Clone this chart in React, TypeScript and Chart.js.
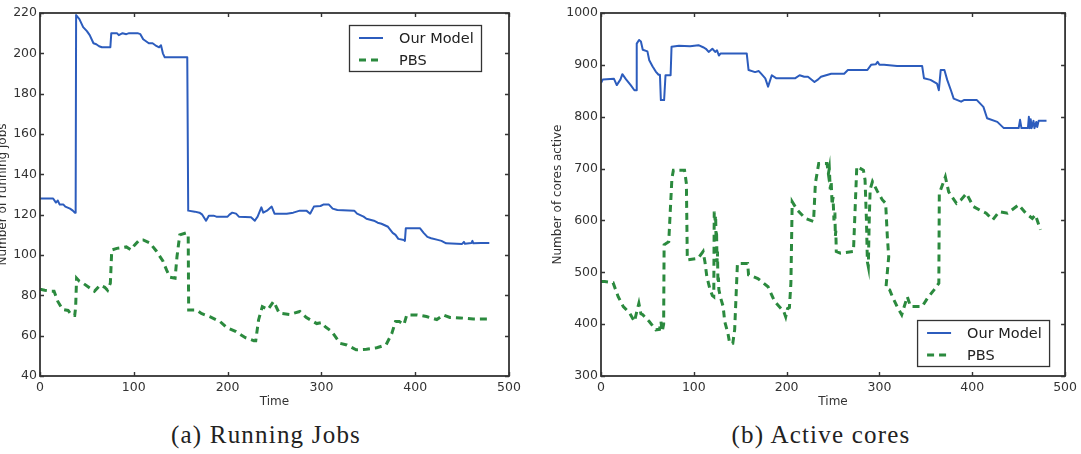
import React, { useEffect, useRef } from "react";
import { Chart, registerables } from "chart.js";

Chart.register(...registerables);

// ---- data: [time, value] samples ----
const seriesLabels = ["Our Model", "PBS"];

const jobsModel: [number, number][] = [
  [0, 128], [14, 128], [17, 126], [19, 127], [21, 125], [25, 125], [27, 124], [32, 123], [35, 122],
  [37, 121], [38, 121], [38.5, 219], [42, 217], [46, 213], [50, 211], [53, 209], [57, 205], [60, 204.5],
  [63, 203.5], [66, 203], [75, 203], [76, 210], [82, 210], [84, 209], [88, 210], [92, 209.5], [95, 210],
  [104, 210], [107, 209.5], [110, 207], [113, 206], [116, 205], [120, 205], [123, 204], [127, 203],
  [129, 204], [131, 200], [133, 198], [157, 198], [158, 122], [165, 121.5], [170, 121], [173, 120],
  [177, 117], [180, 119.5], [185, 119.5], [188, 119], [200, 119], [202, 120], [205, 121], [209, 120.5],
  [212, 119], [225, 118.7], [229, 117], [232, 119], [236, 123.6], [238, 121], [242, 122], [247, 124],
  [250, 120.5], [263, 120.5], [270, 121], [277, 122], [284, 122], [288, 120.5], [292, 124], [299, 124.3],
  [302, 125], [308, 125], [312, 123], [317, 122.3], [335, 122], [338, 120.5], [345, 119], [348, 118],
  [356, 117], [360, 116], [364, 115.5], [371, 114], [376, 111], [379, 110], [382, 108], [388, 107.4],
  [389, 107], [390, 113.3], [405, 113.3], [409, 111], [413, 109], [417, 108.3], [424, 107.5], [428, 107],
  [433, 105.8], [450, 105.5], [452, 106.5], [453, 105.6], [460, 106], [461, 107], [462, 105.8], [470, 106],
  [479, 106],
];

const jobsPbs: [number, number][] = [
  [0, 83], [5, 82.5], [12, 82], [15, 82], [19, 77], [24, 73], [30, 72.5], [34, 70], [37, 70], [38, 74],
  [39, 88.5], [42, 87], [46, 86], [52, 84], [58, 82], [64, 85], [69, 84], [72, 82.5], [75, 86], [76.5, 102.5],
  [82, 103.3], [92, 104], [97, 102.5], [101, 105], [106, 107.5], [110, 107.5], [117, 106], [124, 102],
  [131, 97], [135, 92.5], [138.6, 89], [144, 88.5], [146, 99], [149, 110], [156, 111], [158, 110],
  [158.5, 72.7], [167, 72.7], [172, 71], [181, 69.4], [192, 67], [199, 64], [209, 62], [219, 59],
  [228, 57.5], [230, 57.5], [233, 67.8], [237, 74.4], [243, 73], [249, 77], [255, 71.2], [266, 70.5],
  [277, 72], [284, 69], [295, 66], [300, 66.5], [304, 64.5], [311, 62], [320, 56.2], [327, 55.4],
  [337, 53], [348, 53.3], [359, 54], [369, 55.5], [375, 61], [379, 67], [383, 67], [388, 65.5],
  [391, 70.3], [402, 70.3], [412, 69.5], [423, 68], [430, 70.3], [437, 69], [448, 68.8], [462, 68.3],
  [480, 68.3],
];

const coresModel: [number, number][] = [
  [0, 865], [2, 872], [14, 873], [17, 861], [21, 872], [23, 882], [27, 872], [32, 861], [36, 851],
  [38, 851], [38.5, 941], [41, 948], [43, 945], [45, 929], [50, 926], [52, 909], [55.6, 897], [59, 887],
  [62, 881], [63.5, 881], [64.5, 832], [68, 832], [69.5, 880], [75, 880], [76, 935], [84, 937], [96, 936],
  [105, 938], [110, 934], [113, 931], [116, 925], [120, 931], [123, 925], [125, 928], [127, 918],
  [129, 922], [134, 922], [157, 922], [159, 890], [166, 886], [170, 888], [173, 882], [177, 874],
  [180, 858], [184, 880], [189, 874], [209, 874], [214, 880], [219, 877], [223, 877], [230, 867],
  [234, 872], [237, 877], [248, 883], [262, 883], [266, 890], [287, 890], [291, 900], [296, 901],
  [298, 906], [300, 900], [305, 900], [319, 898], [346, 898], [348, 874], [355, 871], [362, 864],
  [364, 851], [366, 890], [370, 890], [373, 871], [377, 851], [380, 835], [388, 829], [391, 832],
  [405, 832], [412, 819], [416, 797], [427, 790], [434, 778], [450, 778], [451.5, 794], [453, 778],
  [460, 778], [461, 800], [462, 778], [463, 795], [464, 778], [466, 792], [467, 778], [469, 790],
  [470, 780], [471.5, 792], [480, 792],
];

const coresPbs: [number, number][] = [
  [0, 482], [4, 482], [13, 480], [18.5, 453], [24, 434], [31, 421], [36, 405], [38, 420], [40.8, 440],
  [43, 420], [45, 418], [52, 405], [59, 389], [63, 390], [64.6, 405], [66, 386], [67.5, 400], [68, 553],
  [73, 559], [76.4, 681], [78, 697], [90, 697], [92, 671], [93, 524], [104.6, 527], [110, 540],
  [112, 520], [114, 492], [117, 470], [120, 455], [121.5, 453], [122, 617], [123, 600], [123.5, 610],
  [124, 560], [124.5, 580], [125, 520], [125.5, 540], [126, 480], [126.5, 490], [127, 466], [129, 450],
  [131.6, 434], [133.3, 405], [136.8, 382], [138.6, 363], [142, 363], [144, 389], [147, 517], [158, 517],
  [159, 495], [169, 488], [180, 472], [187, 444], [197, 424], [199, 414], [201, 430], [203, 432],
  [204.6, 479], [206, 636], [211.5, 620], [220, 604], [229, 598], [231, 672], [234.6, 710], [243.5, 710],
  [245, 690], [246, 700], [247, 660], [248, 675], [249, 630], [250, 645], [251, 600], [252, 615],
  [252.5, 570], [253, 580], [253.5, 540], [258, 537], [272, 540], [275.6, 704], [282.7, 697],
  [284.5, 678], [286, 600], [287, 520], [288, 511], [289, 600], [290, 660], [292.5, 675], [297.8, 656],
  [303, 640], [306.7, 633], [308.5, 569], [310, 530], [307, 470], [311, 466], [314, 453], [319, 434],
  [324, 418], [330, 453], [333.5, 434], [346, 434], [351.7, 450], [358.8, 466], [364, 479], [364.5, 652],
  [371, 684], [374.6, 655], [378, 646], [383, 633], [388, 640], [393.8, 652], [401, 627], [408, 620],
  [415, 614], [422, 601], [429, 617], [438, 614], [450, 630], [457.6, 614], [464.7, 604], [468, 611],
  [473.4, 582],
];

const timeTicks = [0, 100, 200, 300, 400, 500];
const jobsTicks = [40, 60, 80, 100, 120, 140, 160, 180, 200, 220];
const coresTicks = [300, 400, 500, 600, 700, 800, 900, 1000];

const BLUE = "#2c5cbd";
const GREEN = "#2b8a3e";
const INK = "#333";
const SANS = "'DejaVu Sans', sans-serif";

// Frame with inward ticks on all four sides plus an in-plot legend box.
const frameAndLegend = {
  id: "frameAndLegend",
  afterDatasetsDraw(chart: any, _args: any, opts: any) {
    const { ctx, chartArea: a, scales } = chart;
    ctx.save();
    ctx.strokeStyle = INK;
    ctx.lineWidth = 1.4;
    ctx.beginPath();
    for (const t of scales.x.ticks) {
      const px = Math.round(scales.x.getPixelForValue(t.value)) + 0.5;
      ctx.moveTo(px, a.bottom);
      ctx.lineTo(px, a.bottom - 4);
      ctx.moveTo(px, a.top);
      ctx.lineTo(px, a.top + 4);
    }
    for (const t of scales.y.ticks) {
      const py = Math.round(scales.y.getPixelForValue(t.value)) + 0.5;
      ctx.moveTo(a.left, py);
      ctx.lineTo(a.left + 4, py);
      ctx.moveTo(a.right, py);
      ctx.lineTo(a.right - 4, py);
    }
    ctx.stroke();
    ctx.lineWidth = 1.8;
    ctx.strokeRect(a.left, a.top, a.right - a.left, a.bottom - a.top);

    // legend
    const w = 132;
    const h = 46;
    const x0 = a.right - opts.right - w;
    const y0 = opts.top != null ? a.top + opts.top : a.bottom - opts.bottom - h;
    ctx.fillStyle = "#fff";
    ctx.fillRect(x0, y0, w, h);
    ctx.lineWidth = 1.3;
    ctx.strokeStyle = INK;
    ctx.strokeRect(x0 + 0.5, y0 + 0.5, w, h);
    chart.data.datasets.forEach((ds: any, i: number) => {
      const y = y0 + 13 + i * 22;
      ctx.beginPath();
      ctx.setLineDash(ds.borderDash || []);
      ctx.lineWidth = ds.borderWidth;
      ctx.strokeStyle = ds.borderColor;
      ctx.moveTo(x0 + 10, y);
      ctx.lineTo(x0 + 34, y);
      ctx.stroke();
      ctx.setLineDash([]);
      ctx.fillStyle = "#222";
      ctx.font = `14.5px ${SANS}`;
      ctx.textBaseline = "middle";
      ctx.textAlign = "left";
      ctx.fillText(ds.label, x0 + 50, y + 1);
    });
    ctx.restore();
  },
};

type PanelSpec = {
  model: [number, number][];
  pbs: [number, number][];
  yTicks: number[];
  yTitle: string;
  yAxisWidth: number;
  yTitlePad: number;
  padRight: number;
  legend: { right: number; top?: number; bottom?: number };
};

function makeConfig(p: PanelSpec): any {
  const toPts = (arr: [number, number][]) => arr.map(([x, y]) => ({ x, y }));
  const tickFont = { family: SANS, size: 12.5 };
  const plain = (v: any) => String(v);
  return {
    type: "line",
    data: {
      datasets: [
        {
          label: seriesLabels[0],
          data: toPts(p.model),
          borderColor: BLUE,
          borderWidth: 2,
          pointRadius: 0,
          tension: 0,
          borderJoinStyle: "round",
        },
        {
          label: seriesLabels[1],
          data: toPts(p.pbs),
          borderColor: GREEN,
          borderWidth: 3,
          borderDash: [7, 5],
          pointRadius: 0,
          tension: 0,
        },
      ],
    },
    options: {
      animation: false,
      responsive: false,
      events: [],
      layout: { padding: { top: 13, right: p.padRight, bottom: 0, left: 0 } },
      plugins: {
        legend: { display: false },
        tooltip: { enabled: false },
        title: { display: false },
        frameAndLegend: p.legend,
      },
      scales: {
        x: {
          type: "linear",
          min: timeTicks[0],
          max: timeTicks[timeTicks.length - 1],
          afterBuildTicks: (s: any) => {
            s.ticks = timeTicks.map((v) => ({ value: v }));
          },
          afterFit: (s: any) => {
            s.height = 39;
          },
          grid: { display: false, drawTicks: false },
          border: { display: false },
          ticks: { font: tickFont, color: INK, padding: 4, autoSkip: false, maxRotation: 0, callback: plain },
          title: {
            display: true,
            text: "Time",
            font: { family: SANS, size: 12 },
            color: INK,
            padding: { top: 0, bottom: 6 },
          },
        },
        y: {
          type: "linear",
          min: p.yTicks[0],
          max: p.yTicks[p.yTicks.length - 1],
          afterBuildTicks: (s: any) => {
            s.ticks = p.yTicks.map((v) => ({ value: v }));
          },
          afterFit: (s: any) => {
            s.width = p.yAxisWidth;
          },
          grid: { display: false, drawTicks: false },
          border: { display: false },
          ticks: { font: tickFont, color: INK, padding: 3, autoSkip: false, callback: plain },
          title: {
            display: true,
            text: p.yTitle,
            font: { family: SANS, size: 12 },
            color: INK,
            padding: { top: p.yTitlePad, bottom: 0 },
          },
        },
      },
    },
    plugins: [frameAndLegend],
  };
}

function Panel({ spec, left, width }: { spec: PanelSpec; left: number; width: number }) {
  const ref = useRef<HTMLCanvasElement>(null);
  useEffect(() => {
    const chart = new Chart(ref.current as HTMLCanvasElement, makeConfig(spec));
    return () => chart.destroy();
  }, []);
  return (
    <canvas
      ref={ref}
      width={width}
      height={415}
      style={{ position: "absolute", left, top: 0, width, height: 415 }}
    />
  );
}

const captionStyle: React.CSSProperties = {
  position: "absolute",
  top: 422,
  width: 400,
  textAlign: "center",
  fontFamily: "'Liberation Serif', serif",
  fontSize: 25,
  lineHeight: "25px",
  letterSpacing: "1.2px",
  color: "#222",
  whiteSpace: "nowrap",
};

export default function App() {
  const jobsSpec: PanelSpec = {
    model: jobsModel,
    pbs: jobsPbs,
    yTicks: jobsTicks,
    yTitle: "Number of running jobs",
    yAxisWidth: 48,
    yTitlePad: 4,
    padRight: 31,
    legend: { right: 28, top: 12 },
  };
  const coresSpec: PanelSpec = {
    model: coresModel,
    pbs: coresPbs,
    yTicks: coresTicks,
    yTitle: "Number of cores active",
    yAxisWidth: 61,
    yTitlePad: 11,
    padRight: 11,
    legend: { right: 16, bottom: 10 },
  };
  return (
    <div style={{ position: "absolute", left: 0, top: 0, width: 1081, height: 454, overflow: "hidden", background: "#fff" }}>
      <Panel spec={jobsSpec} left={-8} width={548} />
      <Panel spec={coresSpec} left={540} width={541} />
      <div style={{ ...captionStyle, left: 266 - 200 }}>(a) Running Jobs</div>
      <div style={{ ...captionStyle, left: 821 - 200 }}>(b) Active cores</div>
    </div>
  );
}
